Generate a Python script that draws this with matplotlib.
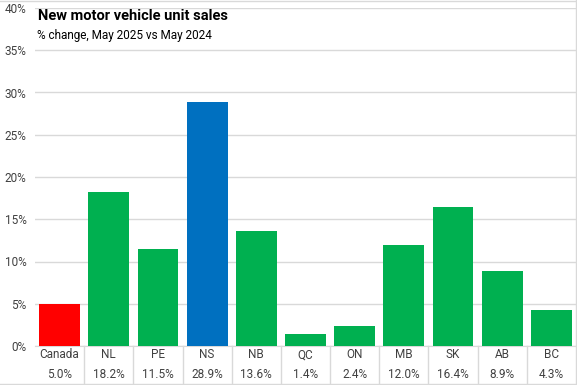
import matplotlib.pyplot as plt
from matplotlib.lines import Line2D
from matplotlib.transforms import blended_transform_factory

# data
regions = ['Canada', 'NL', 'PE', 'NS', 'NB', 'QC', 'ON', 'MB', 'SK', 'AB', 'BC']
pct_change = [5.0, 18.2, 11.5, 28.9, 13.6, 1.4, 2.4, 12.0, 16.4, 8.9, 4.3]
bar_colors = ['#FF0000', '#00B050', '#00B050', '#0070C0', '#00B050', '#00B050',
              '#00B050', '#00B050', '#00B050', '#00B050', '#00B050']
y_ticks = [0, 5, 10, 15, 20, 25, 30, 35, 40]

plt.rcParams['font.family'] = ['Roboto', 'DejaVu Sans']

W, H = 577, 385
fig = plt.figure(figsize=(W / 100, H / 100), dpi=100)
ax = fig.add_axes([35 / W, 39 / H, (576 - 35) / W, (346 - 8) / H])

x = list(range(len(regions)))
ax.bar(x, pct_change, width=0.83, color=bar_colors, zorder=3)

ax.set_xlim(-0.5, len(regions) - 0.5)
ax.set_ylim(0, 40)
ax.set_yticks(y_ticks)
ax.set_yticklabels([f'{t}%' for t in y_ticks], fontsize=8.5, color='#404040')
ax.tick_params(axis='y', length=0, pad=6)
ax.set_xticks([])
ax.grid(axis='y', color='#d9d9d9', linewidth=1, zorder=0)
for s in ['top', 'right', 'left']:
    ax.spines[s].set_visible(False)
ax.spines['bottom'].set_color('#d9d9d9')

# category table under the axis
tr = blended_transform_factory(ax.transData, ax.transAxes)
row1 = -(355 - 346) / (346 - 8)
row2 = -(374 - 346) / (346 - 8)
for i, (r, v) in enumerate(zip(regions, pct_change)):
    ax.text(i, row1, r, transform=tr, ha='center', va='center', fontsize=8.5, color='#404040')
    ax.text(i, row2, f'{v:.1f}%', transform=tr, ha='center', va='center', fontsize=8.5, color='#404040')
bot = -(383 - 346) / (346 - 8)
for i in range(len(regions) - 1):
    ax.add_line(Line2D([i + 0.5, i + 0.5], [0, bot], transform=tr, color='#d9d9d9',
                       linewidth=1, clip_on=False))

# title and subtitle
fig.text(38 / W, 1 - 16 / H, 'New motor vehicle unit sales', fontsize=10.5,
         fontweight='bold', ha='left', va='center', color='#000000')
fig.text(37 / W, 1 - 35 / H, '% change, May 2025 vs May 2024', fontsize=8.5,
         ha='left', va='center', color='#000000')

# outer frame
fig.add_artist(Line2D([0, 1], [1 - 1 / H, 1 - 1 / H], transform=fig.transFigure, color='#d9d9d9', linewidth=1))
fig.add_artist(Line2D([0, 1], [1.5 / H, 1.5 / H], transform=fig.transFigure, color='#d9d9d9', linewidth=1))
fig.add_artist(Line2D([1 - 1 / W, 1 - 1 / W], [0, 1], transform=fig.transFigure, color='#d9d9d9', linewidth=1))

fig.savefig('out.png', dpi=100)
